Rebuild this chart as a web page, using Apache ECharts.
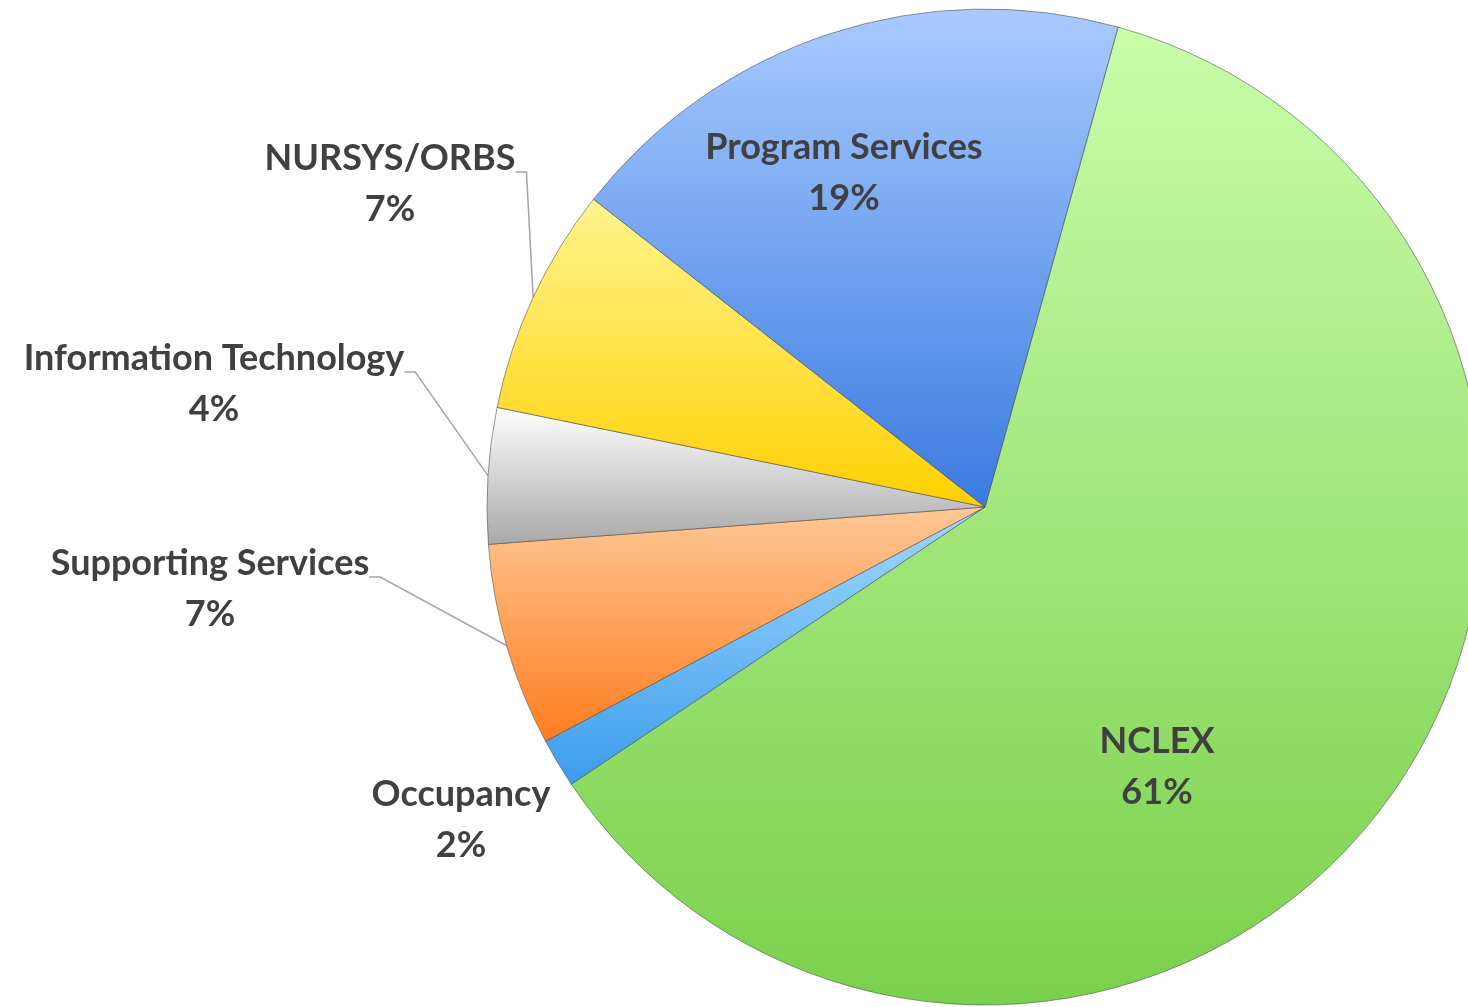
<!DOCTYPE html>
<html>
<head>
<meta charset="utf-8">
<script src="https://cdn.jsdelivr.net/npm/echarts@6/dist/echarts.min.js"></script>
<style>
  html, body { margin: 0; padding: 0; background: #ffffff; }
  #chart { width: 1468px; height: 1007px; }
</style>
</head>
<body>
<div id="chart"></div>
<script>
// ---- data ----
const categories = ['NCLEX', 'Occupancy', 'Supporting Services', 'Information Technology', 'NURSYS/ORBS', 'Program Services'];
const shares = [61.3, 1.6, 6.6, 4.4, 7.4, 18.7];

// ---- styles ----
const gradients = {
  'NCLEX': ['#c9fdaa', '#7ad04c'],
  'Occupancy': ['#a3d9ff', '#3b9cec'],
  'Supporting Services': ['#ffc896', '#ff7d1e'],
  'Information Technology': ['#ffffff', '#a8a8a8'],
  'NURSYS/ORBS': ['#fff590', '#ffd000'],
  'Program Services': ['#a9caff', '#3a7be0']
};
const insideLabels = ['NCLEX', 'Program Services'];
const noLineLabels = ['NCLEX', 'Program Services', 'Occupancy'];
// label text-block centres (layout)
const labelCentres = {
  'NCLEX': [1157, 767],
  'Occupancy': [461, 820],
  'Supporting Services': [210, 589],
  'Information Technology': [214, 384],
  'NURSYS/ORBS': [390, 184],
  'Program Services': [844, 173]
};

const chart = echarts.init(document.getElementById('chart'), null, { renderer: 'canvas' });

const data = categories.map(function (name, i) {
  const g = gradients[name];
  const inside = insideLabels.indexOf(name) >= 0;
  const hasLine = noLineLabels.indexOf(name) < 0;
  return {
    name: name,
    value: shares[i],
    itemStyle: {
      color: { type: 'linear', x: 0, y: 0, x2: 0, y2: 1,
        colorStops: [{ offset: 0, color: g[0] }, { offset: 1, color: g[1] }] }
    },
    label: {
      position: inside ? 'inside' : 'outside',
      formatter: hasLine ? '{s| }\n{b}\n{d}%' : '{b}\n{d}%'
    },
    labelLine: { show: hasLine }
  };
});

chart.setOption({
  animation: false,
  series: [{
    type: 'pie',
    center: [985, 507],
    radius: 498,
    startAngle: 74.5,
    clockwise: true,
    percentPrecision: 0,
    avoidLabelOverlap: false,
    itemStyle: { borderColor: 'rgba(70,70,70,0.55)', borderWidth: 1 },
    label: {
      show: true,
      color: '#404040',
      fontFamily: 'Lato',
      fontWeight: 'bold',
      fontSize: 36,
      lineHeight: 51,
      align: 'center',
      rich: {
        s: { fontSize: 1, lineHeight: 24 }
      }
    },
    labelLine: {
      show: true,
      length: 10,
      length2: 11,
      smooth: false,
      lineStyle: { color: '#a6a6a6', width: 1.5 }
    },
    labelLayout: function (p) {
      const name = categories[p.dataIndex];
      const c = labelCentres[name];
      const hasLine = noLineLabels.indexOf(name) < 0;
      return {
        x: c[0],
        y: hasLine ? c[1] - 12 : c[1],
        align: 'center',
        verticalAlign: 'middle'
      };
    },
    emphasis: { disabled: true },
    data: data
  }]
});
</script>
</body>
</html>
